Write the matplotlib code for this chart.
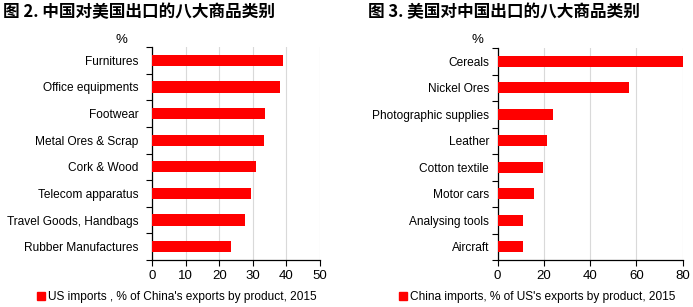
import numpy as np
import matplotlib.pyplot as plt
from matplotlib.lines import Line2D

# left panel: China -> US
cn_cats = ['Furnitures', 'Office equipments', 'Footwear', 'Metal Ores & Scrap',
           'Cork & Wood', 'Telecom apparatus', 'Travel Goods, Handbags',
           'Rubber Manufactures']
cn_vals = [39.0, 38.0, 33.7, 33.2, 31.1, 29.6, 27.7, 23.4]
cn_ticks = [0, 10, 20, 30, 40, 50]

# right panel: US -> China
us_cats = ['Cereals', 'Nickel Ores', 'Photographic supplies', 'Leather',
           'Cotton textile', 'Motor cars', 'Analysing tools', 'Aircraft']
us_vals = [80.0, 56.7, 24.0, 21.6, 19.7, 15.8, 11.2, 11.0]
us_ticks = [0, 20, 40, 60, 80]

W, H = 693, 307
LBL = ['Liberation Sans', 'DejaVu Sans']
CJK = ['Noto Sans CJK SC', 'DejaVu Sans']
RED = '#ff0000'
FS = 8.6

fig = plt.figure(figsize=(W / 100, H / 100), dpi=100)


def panel(x0, x1, y0, y1, cats, vals, ticks, title, tx, pctx, legend, lx, pad):
    ax = fig.add_axes([x0 / W, 1 - y1 / H, (x1 - x0) / W, (y1 - y0) / H])
    y = np.arange(len(cats))
    ax.barh(y, vals, height=0.42, color=RED, zorder=3)
    ax.set_ylim(len(cats) - 0.5, -0.5)
    ax.set_xlim(ticks[0], ticks[-1])
    ax.set_xticks(ticks)
    ax.set_xticklabels([str(t) for t in ticks], family=LBL, fontsize=9.5)
    ax.set_yticks(y)
    ax.set_yticklabels(cats, family=LBL, fontsize=FS)
    ax.set_yticks(np.arange(len(cats) + 1) - 0.5, minor=True)
    ax.tick_params(axis='y', which='major', length=0, pad=pad)
    ax.tick_params(axis='y', which='minor', length=4, width=0.8)
    ax.tick_params(axis='x', length=4, width=0.8, pad=3)
    ax.grid(axis='x', color='#d9d9d9', lw=0.8, zorder=0)
    for s in ['top', 'right']:
        ax.spines[s].set_visible(False)
    for s in ['left', 'bottom']:
        ax.spines[s].set_linewidth(0.9)
    fig.text(tx / W, 1 - 12 / H, title, family=CJK, fontsize=12.0, weight='bold',
             va='center', ha='left')
    fig.text(pctx / W, 1 - 40 / H, '%', family=LBL, fontsize=9.5,
             va='center', ha='center')
    h = Line2D([], [], marker='s', color=RED, ls='none', markersize=5.5)
    fig.legend([h], [legend], loc='center left', bbox_to_anchor=(lx / W, 1 - 297 / H),
               frameon=False, prop={'family': LBL, 'size': FS},
               handletextpad=0.0, handlelength=1.2, borderaxespad=0, borderpad=0)
    return ax


panel(152, 320, 47, 260, cn_cats, cn_vals, cn_ticks,
      '图 2. 中国对美国出口的八大商品类别', 3, 121,
      "US imports , % of China's exports by product, 2015", 34, 9.5)
panel(497.5, 682.5, 48, 260, us_cats, us_vals, us_ticks,
      '图 3. 美国对中国出口的八大商品类别', 368, 477,
      "China imports, % of US's exports by product, 2015", 396, 6)

fig.savefig('out.png', dpi=100)
